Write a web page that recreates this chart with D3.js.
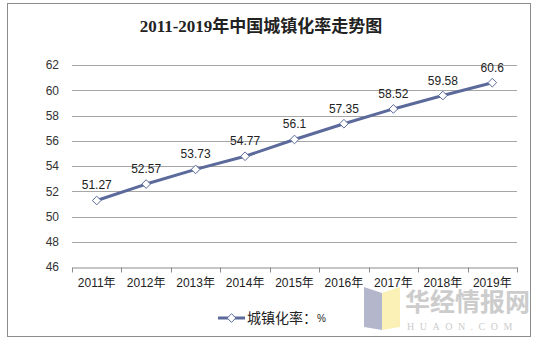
<!DOCTYPE html>
<html>
<head>
<meta charset="utf-8">
<script src="https://cdn.jsdelivr.net/npm/d3@7"></script>
<style>
  html, body { margin: 0; padding: 0; background: #fff; }
  svg { display: block; }
</style>
</head>
<body>
<svg id="chart" width="541" height="341"></svg>
<script>
// Urbanization rate of China, 2011–2019 (%)
const years = ["2011年", "2012年", "2013年", "2014年", "2015年", "2016年", "2017年", "2018年", "2019年"];
const rates = [51.27, 52.57, 53.73, 54.77, 56.1, 57.35, 58.52, 59.58, 60.6];
const yTicks = [46, 48, 50, 52, 54, 56, 58, 60, 62];
const titleText = "2011-2019年中国城镇化率走势图";
const seriesName = "城镇化率：";

const svg = d3.select("#chart");
const lineColor = "#5b6a9b";
const sansFont = "'Liberation Sans', Arial, 'Noto Sans CJK SC', sans-serif";

// outer frame
svg.append("rect")
  .attr("x", 7.5).attr("y", 3.5)
  .attr("width", 523).attr("height", 333)
  .attr("fill", "#fff").attr("stroke", "#8c8c8c").attr("stroke-width", 1);

// title
svg.append("text")
  .attr("x", 261).attr("y", 32)
  .attr("text-anchor", "middle")
  .attr("font-family", "'Liberation Serif', 'Noto Sans CJK SC', serif")
  .attr("font-weight", "bold")
  .attr("font-size", 17)
  .attr("fill", "#222")
  .text(titleText);

const plot = { left: 72, right: 517, top: 65, bottom: 267 };

const x = d3.scaleBand().domain(years).range([plot.left, plot.right]);
const y = d3.scaleLinear().domain([46, 62]).range([plot.bottom, plot.top]);

// horizontal gridlines
svg.append("g").selectAll("line")
  .data(yTicks.filter(t => t !== 46))
  .join("line")
  .attr("x1", plot.left).attr("x2", plot.right)
  .attr("y1", d => Math.round(y(d)) + 0.5).attr("y2", d => Math.round(y(d)) + 0.5)
  .attr("stroke", "#a6a6a6").attr("stroke-width", 1);

// y axis labels
const yAxis = d3.axisLeft(y).tickValues(yTicks).tickSize(0).tickPadding(13);
const gy = svg.append("g").attr("transform", `translate(${plot.left},0)`).call(yAxis);
gy.select(".domain").remove();
gy.selectAll("text")
  .attr("font-family", sansFont).attr("font-size", 12).attr("fill", "#333");

// x axis
const xAxis = d3.axisBottom(x).tickSize(0).tickPadding(11);
const gx = svg.append("g").attr("transform", `translate(0,${Math.round(plot.bottom) + 0.5})`).call(xAxis);
gx.select(".domain").attr("stroke", "#8c8c8c");
gx.selectAll("text")
  .attr("font-family", sansFont).attr("font-size", 12).attr("fill", "#222");
// category boundary ticks
const bounds = years.map(d => x(d)).concat([plot.right]);
gx.append("g").selectAll("line")
  .data(bounds)
  .join("line")
  .attr("x1", d => Math.round(d) + 0.5).attr("x2", d => Math.round(d) + 0.5)
  .attr("y1", 0).attr("y2", 5)
  .attr("stroke", "#8c8c8c");

// series line
const cx = (d, i) => x(years[i]) + x.bandwidth() / 2;
const line = d3.line().x((d, i) => cx(d, i)).y(d => y(d));
svg.append("path")
  .datum(rates)
  .attr("d", line)
  .attr("fill", "none")
  .attr("stroke", lineColor)
  .attr("stroke-width", 3)
  .attr("stroke-linejoin", "round");

// diamond markers
const diamond = d3.symbol().type(d3.symbolDiamond2).size(48);
svg.append("g").selectAll("path")
  .data(rates)
  .join("path")
  .attr("transform", (d, i) => `translate(${cx(d, i)},${y(d)})`)
  .attr("d", diamond)
  .attr("fill", "#fff")
  .attr("stroke", lineColor)
  .attr("stroke-width", 1);

// value labels
svg.append("g").selectAll("text")
  .data(rates)
  .join("text")
  .attr("x", (d, i) => cx(d, i))
  .attr("y", d => y(d) - 11)
  .attr("text-anchor", "middle")
  .attr("font-family", sansFont).attr("font-size", 12).attr("fill", "#222")
  .text(d => d);

// legend
const lg = svg.append("g").attr("transform", "translate(218,318)");
lg.append("line").attr("x1", 0).attr("x2", 27).attr("y1", 0).attr("y2", 0)
  .attr("stroke", lineColor).attr("stroke-width", 3);
lg.append("path").attr("transform", "translate(13.5,0)")
  .attr("d", diamond).attr("fill", "#fff").attr("stroke", lineColor);
lg.append("text").attr("x", 29).attr("y", 5)
  .attr("font-family", "'Noto Sans CJK SC', sans-serif").attr("font-size", 14).attr("fill", "#222")
  .text(seriesName);
lg.append("text").attr("x", 99).attr("y", 4)
  .attr("font-family", sansFont).attr("font-size", 10).attr("fill", "#222")
  .text("%");

// publisher mark
const wm = svg.append("g").attr("opacity", 0.85);
wm.append("path").attr("d", "M364,287 L382,293 L382,330 L364,327 Z").attr("fill", "#a7abc4");
wm.append("path").attr("d", "M382,293 L400,287 L400,327 L382,330 Z").attr("fill", "#fbeeaa");
wm.append("text").attr("x", 405).attr("y", 311)
  .attr("font-family", "'Noto Sans CJK SC', sans-serif").attr("font-size", 25).attr("font-weight", "bold")
  .attr("fill", "#c4c4c4").text("华经情报网");
wm.append("text").attr("x", 407).attr("y", 330)
  .attr("font-family", "'Liberation Serif', serif").attr("font-size", 10)
  .attr("letter-spacing", 5.5).attr("fill", "#c4c4c4").text("HUAON.COM");
</script>
</body>
</html>
